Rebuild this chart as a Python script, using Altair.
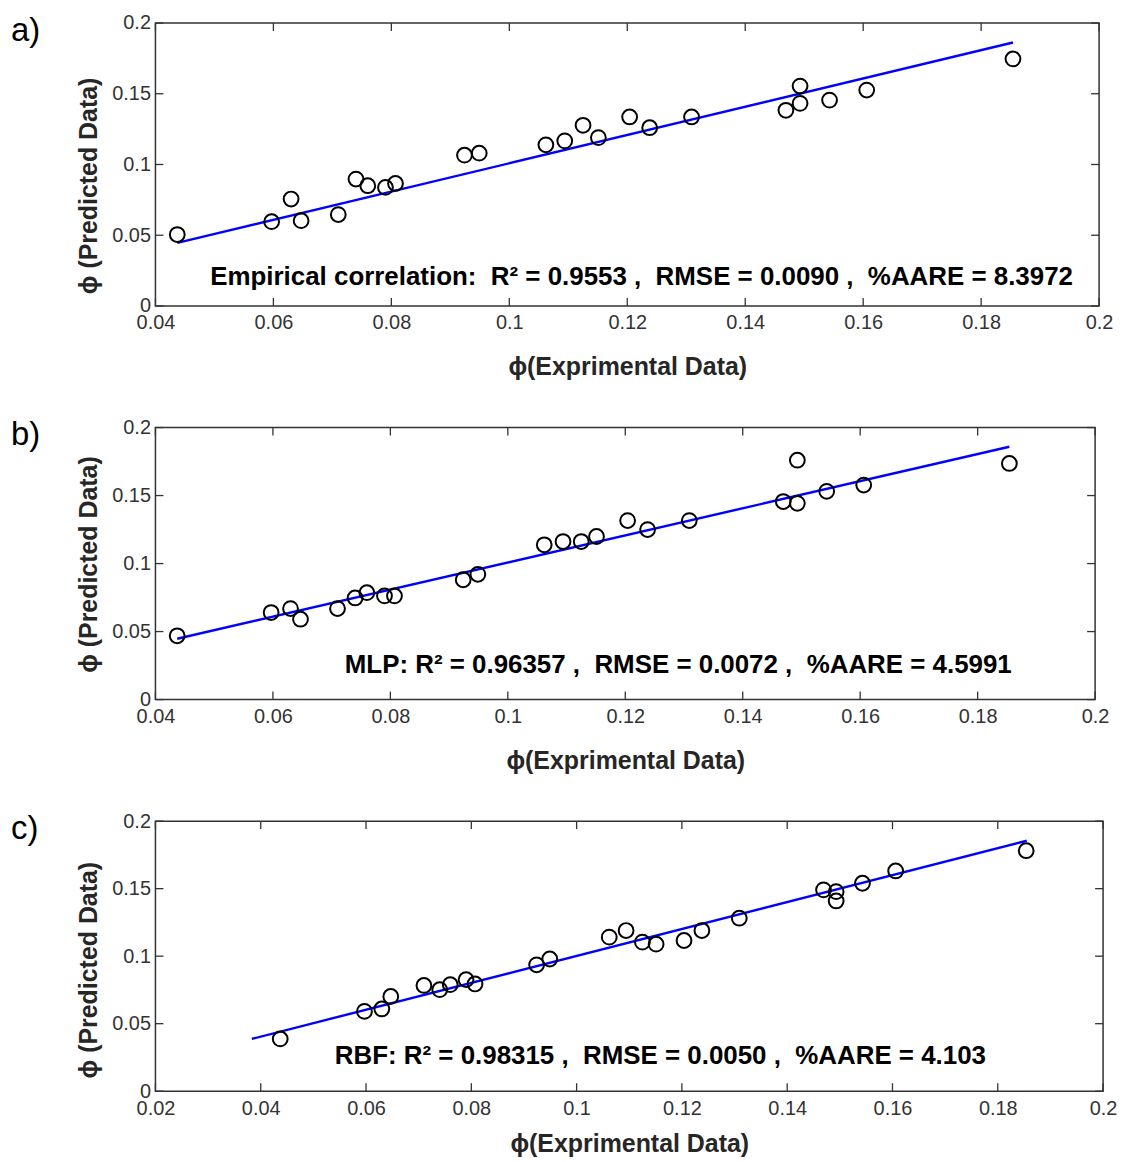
import altair as alt
import pandas as pd

# ---- data ----
x_exp = [0.0437, 0.0597, 0.0630, 0.0647, 0.0710, 0.0740, 0.0760, 0.0790, 0.0807,
         0.0924, 0.0949, 0.1062, 0.1094, 0.1125, 0.1151, 0.1204, 0.1238, 0.1309,
         0.1469, 0.1493, 0.1493, 0.1543, 0.1606, 0.1854]
y_emp = [0.0505, 0.0596, 0.0756, 0.0603, 0.0646, 0.0897, 0.0850, 0.0838, 0.0866,
         0.1066, 0.1080, 0.1139, 0.1167, 0.1277, 0.1190, 0.1336, 0.1260, 0.1336,
         0.1383, 0.1554, 0.1432, 0.1455, 0.1526, 0.1746]
y_mlp = [0.0469, 0.0640, 0.0669, 0.0591, 0.0669, 0.0747, 0.0786, 0.0762, 0.0762,
         0.0881, 0.0921, 0.1138, 0.1162, 0.1162, 0.1199, 0.1316, 0.1250, 0.1316,
         0.1456, 0.1760, 0.1443, 0.1531, 0.1577, 0.1736]
y_rbf = [0.0387, 0.0591, 0.0609, 0.0702, 0.0783, 0.0752, 0.0789, 0.0826, 0.0794,
         0.0936, 0.0979, 0.1141, 0.1190, 0.1104, 0.1089, 0.1116, 0.1190, 0.1281,
         0.1491, 0.1478, 0.1409, 0.1540, 0.1631, 0.1781]

line_a_x = [0.0437, 0.1854]
line_a_y = [0.0446, 0.1862]
line_b_x = [0.0437, 0.1854]
line_b_y = [0.0447, 0.1859]
line_c_x = [0.0383, 0.1855]
line_c_y = [0.0387, 0.1855]

xticks_ab = [0.04, 0.06, 0.08, 0.10, 0.12, 0.14, 0.16, 0.18, 0.20]
xticks_c = [0.02, 0.04, 0.06, 0.08, 0.10, 0.12, 0.14, 0.16, 0.18, 0.20]
yticks = [0.0, 0.05, 0.10, 0.15, 0.20]

NB = "\u00a0"
labels = ["a)", "b)", "c)"]
notes = [
    f"Empirical correlation: {NB}R\u00b2 = 0.9553 , {NB}RMSE = 0.0090 , {NB}%AARE = 8.3972",
    f"MLP: R\u00b2 = 0.96357 , {NB}RMSE = 0.0072 , {NB}%AARE = 4.5991",
    f"RBF: R\u00b2 = 0.98315 , {NB}RMSE = 0.0050 , {NB}%AARE = 4.103",
]
x_title = "\u03d5(Exprimental Data)"
y_title = "\u03d5 (Predicted Data)"

FONT = "Liberation Sans"
TICK_LEN = 8


def panel(label, ys, xdom, xticks, lx, ly, note, w, h, note_x, note_y, xt_y, yt_y):
    xscale = alt.Scale(domain=xdom, nice=False, zero=False)
    yscale = alt.Scale(domain=[0, 0.2], nice=False, zero=False)
    xaxis = alt.Axis(values=xticks, format=".2~f", title=x_title, grid=False,
                     domain=False, ticks=False, labelFontSize=20, labelColor="#333333",
                     labelPadding=7, labelFlush=False, labelOverlap=False,
                     titleFontSize=25, titleFontWeight="bold", titleColor="#262626",
                     titleY=xt_y, titleBaseline="middle")
    yaxis = alt.Axis(values=yticks, format=".2~f", title=y_title, grid=False,
                     domain=False, ticks=False, labelFontSize=20, labelColor="#333333",
                     labelPadding=5, labelFlush=False, labelOverlap=False,
                     titleFontSize=25, titleFontWeight="bold", titleColor="#262626",
                     titleX=-67, titleY=yt_y, titleBaseline="middle")
    X = alt.X("x:Q", scale=xscale, axis=xaxis)
    Y = alt.Y("y:Q", scale=yscale, axis=yaxis)

    pts = alt.Chart(pd.DataFrame({"x": x_exp, "y": ys})).mark_point(
        shape="circle", filled=False, size=220, color="black", strokeWidth=2.0, opacity=1
    ).encode(x=X, y=Y)

    line = alt.Chart(pd.DataFrame({"x": lx, "y": ly})).mark_line(
        color="#0000ff", strokeWidth=2.4
    ).encode(x=X, y=Y)

    xt = pd.DataFrame({"x": xticks})
    yt = pd.DataFrame({"y": yticks})
    tick_style = dict(color="#333333", strokeWidth=1.3)
    t_bottom = alt.Chart(xt).mark_rule(**tick_style).encode(
        x=X, y=alt.value(h), y2=alt.value(h - TICK_LEN))
    t_top = alt.Chart(xt).mark_rule(**tick_style).encode(
        x=X, y=alt.value(0), y2=alt.value(TICK_LEN))
    t_left = alt.Chart(yt).mark_rule(**tick_style).encode(
        y=Y, x=alt.value(0), x2=alt.value(TICK_LEN))
    t_right = alt.Chart(yt).mark_rule(**tick_style).encode(
        y=Y, x=alt.value(w), x2=alt.value(w - TICK_LEN))

    txt = alt.Chart(pd.DataFrame({"note": [note]})).mark_text(
        align="left", baseline="middle", fontSize=26, fontWeight="bold",
        font=FONT, color="black"
    ).encode(x=alt.value(note_x), y=alt.value(note_y), text="note:N")

    lab = alt.Chart(pd.DataFrame({"label": [label]})).mark_text(
        align="left", baseline="middle", fontSize=33, font=FONT, color="black"
    ).encode(x=alt.value(-145), y=alt.value(8), text="label:N")

    return alt.layer(t_bottom, t_top, t_left, t_right, line, pts, txt, lab).properties(
        width=w, height=h)


pa = panel(labels[0], y_emp, [0.04, 0.2], xticks_ab, line_a_x, line_a_y, notes[0],
           947, 284, 55, 255, 61, 163)
pb = panel(labels[1], y_mlp, [0.04, 0.2], xticks_ab, line_b_x, line_b_y, notes[1],
           943, 273, 190, 238, 61, 137)
pc = panel(labels[2], y_rbf, [0.02, 0.2], xticks_c, line_c_x, line_c_y, notes[2],
           951, 271, 180, 236, 53, 149)

chart = alt.VConcatChart(vconcat=[pa, pb, pc], spacing=122, bounds="flush").properties(
    padding={"left": 10, "top": 10, "right": 5, "bottom": 5},
    background="white",
).configure_view(
    stroke="#333333", strokeWidth=1.5
).configure_axis(
    labelFont=FONT, titleFont=FONT
).configure_text(font=FONT)

chart.save("out.html", embed_options={"renderer": "svg", "actions": False})
